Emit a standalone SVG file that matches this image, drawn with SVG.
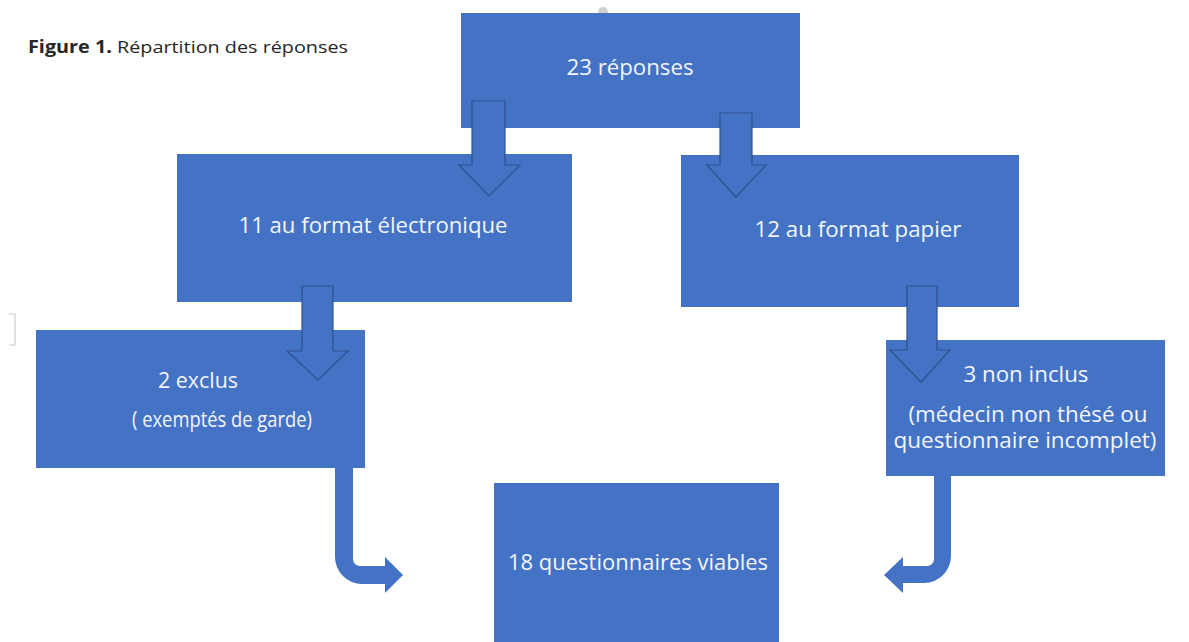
<svg xmlns="http://www.w3.org/2000/svg" width="1189" height="642" viewBox="0 0 1189 642">
<style>
.box{fill:#4472C4;}
.blk{fill:#4472C4;stroke:#2F528F;stroke-width:1.2;}
.bent{fill:#4472C4;}
.t{font-family:"Open Sans","Liberation Sans",sans-serif;font-size:21px;fill:#F2F5FB;text-anchor:middle;}
.cap{font-family:"Open Sans","Liberation Sans",sans-serif;font-size:17px;fill:#262626;}
</style>
<rect width="1189" height="642" fill="#FFFFFF"/>
<g id="caption">
<text class="cap" x="28" y="53" textLength="320" lengthAdjust="spacingAndGlyphs"><tspan font-weight="bold">Figure 1.</tspan> Répartition des réponses</text>
</g>
<path d="M9 314 H15 V345 H9" fill="none" stroke="#D9D9D9" stroke-width="1.5"/>
<circle cx="603" cy="12" r="5" fill="#D0D0D0"/>
<g id="n1"><rect class="box" x="461" y="13" width="339" height="115"/><text class="t" x="630" y="75" textLength="127" lengthAdjust="spacingAndGlyphs">23 réponses</text></g>
<g id="n2"><rect class="box" x="177" y="154" width="395" height="148"/><text class="t" x="373" y="233" textLength="269" lengthAdjust="spacingAndGlyphs">11 au format électronique</text></g>
<g id="n3"><rect class="box" x="681" y="155" width="338" height="152"/><text class="t" x="858" y="237" textLength="207" lengthAdjust="spacingAndGlyphs">12 au format papier</text></g>
<g id="n4"><rect class="box" x="36" y="330" width="329" height="138"/><text class="t" x="198" y="388" textLength="80" lengthAdjust="spacingAndGlyphs">2 exclus</text><text class="t" x="222" y="427" textLength="180" lengthAdjust="spacingAndGlyphs">( exemptés de garde)</text></g>
<g id="n5"><rect class="box" x="886" y="340" width="279" height="136"/><text class="t" x="1026" y="382" textLength="125" lengthAdjust="spacingAndGlyphs">3 non inclus</text><text class="t" x="1028" y="422" textLength="239" lengthAdjust="spacingAndGlyphs">(médecin non thésé ou</text><text class="t" x="1025" y="448" textLength="263" lengthAdjust="spacingAndGlyphs">questionnaire incomplet)</text></g>
<g id="n6"><rect class="box" x="494" y="483" width="285" height="159"/><text class="t" x="638" y="570" textLength="260" lengthAdjust="spacingAndGlyphs">18 questionnaires viables</text></g>
<g id="connectors">
<path class="blk" d="M472 101 H505 V165 H520 L489 196 L459 165 H472 Z"/>
<path class="blk" d="M720 113 H752 V165 H766 L736 197 L707 165 H720 Z"/>
<path class="blk" d="M302 286 H333 V351 H348 L318 380 L287 351 H302 Z"/>
<path class="blk" d="M907 286 H937 V350 H950 L921 382 L890 350 H907 Z"/>
<path class="bent" d="M335 468 H353 V559 A7 7 0 0 0 360 566 H385 V557 L403 575 L385 593 V584 H362 A27 27 0 0 1 335 557 Z"/>
<path class="bent" d="M934 476 H951 V556 A27 27 0 0 1 924 583 H903 V593 L884 575 L903 557 V566 H927 A7 7 0 0 0 934 559 Z"/>
</g>
</svg>
